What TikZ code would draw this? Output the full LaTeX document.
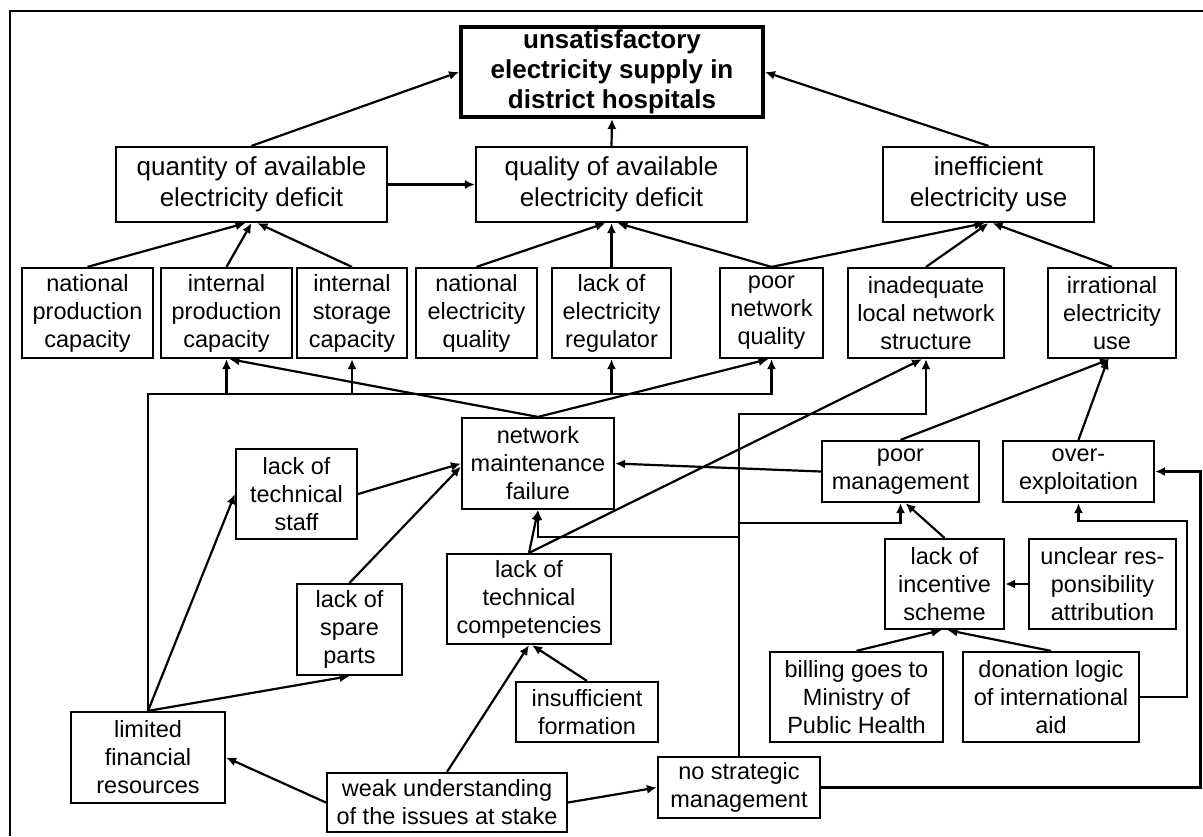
\documentclass[tikz,border=0pt]{standalone}
\usepackage{fontspec}
\setmainfont{Liberation Sans}
\usetikzlibrary{arrows.meta}

\tikzset{
  >={Latex[length=10pt,width=9pt]},
  box/.style={draw, line width=2.2pt, align=center, inner sep=0pt,
    font=\fontsize{23.5}{28}\selectfont},
  head/.style={box, font=\fontsize{26}{31.5}\selectfont},
  goal/.style={box, line width=4pt, font=\fontsize{26}{30}\selectfont\bfseries},
  link/.style={line width=2.2pt, ->},
}

\begin{document}
\begin{tikzpicture}[x=1pt, y=-1pt]
                \useasboundingbox (0,0) rectangle (1203,836);
                \draw[line width=2pt] (9.6,836) -- (9.6,10.7) -- (1203,10.7);

                \node[goal, minimum width=302, minimum height=90] (goal) at (612,72) {unsatisfactory\\electricity supply in\\district hospitals};

                \node[head, minimum width=271, minimum height=75] (quantity) at (251.5,184.5) {quantity of available\\electricity deficit};
                \node[head, minimum width=271, minimum height=75] (quality) at (611.5,184.5) {quality of available\\electricity deficit};
                \node[head, minimum width=211, minimum height=75] (ineff) at (988.5,184.5) {inefficient\\electricity use};

                \node[box, minimum width=131, minimum height=90] (natprod) at (87.5,313) {national\\production\\capacity};
                \node[box, minimum width=131, minimum height=90] (intprod) at (226.5,313) {internal\\production\\capacity};
                \node[box, minimum width=110, minimum height=90] (storage) at (352,313) {internal\\storage\\capacity};
                \node[box, minimum width=121, minimum height=90] (natqual) at (476.5,313) {national\\electricity\\quality};
                \node[box, minimum width=119, minimum height=90] (regul) at (611.5,313) {lack of\\electricity\\regulator};
                \node[box, minimum width=103, minimum height=90] (poorqual) at (771.5,313) {poor\\network\\quality};
                \node[box, minimum width=156, minimum height=90] (inadeq) at (926,313) {inadequate\\local network\\structure};
                \node[box, minimum width=128, minimum height=90] (irrat) at (1112,313) {irrational\\electricity\\use};

                \node[box, minimum width=152, minimum height=91] (netmaint) at (538,463.5) {network\\maintenance\\failure};
                \node[box, minimum width=121, minimum height=90] (techstaff) at (296.5,494) {lack of\\technical\\staff};
                \node[box, minimum width=105, minimum height=91] (spare) at (349.5,629.5) {lack of\\spare\\parts};
                \node[box, minimum width=164, minimum height=90] (techcomp) at (529,599) {lack of\\technical\\competencies};
                \node[box, minimum width=142, minimum height=60] (insuff) at (587,712) {insufficient\\formation};
                \node[box, minimum width=154, minimum height=91] (limited) at (148,757.5) {limited\\financial\\resources};
                \node[box, minimum width=240, minimum height=59] (weak) at (447,802.5) {weak understanding\\of the issues at stake};
                \node[box, minimum width=162, minimum height=61] (nostrat) at (739,787.5) {no strategic\\management};

                \node[box, minimum width=157, minimum height=61] (poormgmt) at (900.5,471.5) {poor\\management};
                \node[box, minimum width=151, minimum height=61] (overexpl) at (1078.5,471.5) {over-\\exploitation};
                \node[box, minimum width=119, minimum height=90] (incentive) at (944.5,584) {lack of\\incentive\\scheme};
                \node[box, minimum width=147, minimum height=90] (unclear) at (1102.5,584) {unclear res-\\ponsibility\\attribution};
                \node[box, minimum width=173, minimum height=90] (billing) at (856.5,697) {billing goes to\\Ministry of\\Public Health};
                \node[box, minimum width=176, minimum height=90] (donation) at (1051,697) {donation logic\\of international\\aid};

                \coordinate (bus) at (0,394);
                \coordinate (upper) at (0,414);
                \coordinate (mid) at (0,523);
                \coordinate (low) at (0,537);
                \coordinate (edge) at (1200.5,0);
                \coordinate (rail) at (1187,521);

                \draw[link] (quantity.north) -- (goal.west);
                \draw[link] (quality.north) -- (goal.south);
                \draw[link] (ineff.north) -- (goal.east);
                \draw[link] (quantity.east) -- (quality.west);

                \draw[link] (natprod.north) -- ([xshift=-6pt]quantity.south);
                \draw[link] (intprod.north) -- (quantity.south);
                \draw[link] (storage.north) -- ([xshift=6pt]quantity.south);
                \draw[link] (natqual.north) -- ([xshift=-6pt]quality.south);
                \draw[link] (regul.north) -- (quality.south);
                \draw[link] (poorqual.north) -- ([xshift=6pt]quality.south);
                \draw[link] (poorqual.north) -- ([xshift=-4pt]ineff.south);
                \draw[link] (inadeq.north) -- (ineff.south);
                \draw[link] (irrat.north) -- ([xshift=4pt]ineff.south);

                \draw[link] (limited.north) |- (poorqual.south |- bus) -- (poorqual.south);
                \foreach \n in {intprod, storage, regul}
                  \draw[link] (\n.south |- bus) -- (\n.south);
                \draw[link] (netmaint.north) -- ([xshift=3pt]intprod.south);
                \draw[link] (netmaint.north) -- ([xshift=-3pt]poorqual.south);

                \draw[link] (techstaff.east) -- (netmaint.west);
                \draw[link] (spare.north) -- ([yshift=-3pt]netmaint.west);
                \draw[link] (limited.north) -- (techstaff.west);
                \draw[link] (limited.north) -- (spare.south);
                \draw[link] (techcomp.north) -- (netmaint.south);
                \draw[link] (techcomp.north) -- ([xshift=-4pt]inadeq.south);
                \draw[link] (insuff.north) -- ([xshift=3pt]techcomp.south);
                \draw[link] (weak.north) -- (techcomp.south);
                \draw[link] (weak.west) -- (limited.east);
                \draw[link] (weak.east) -- (nostrat.west);

                \draw[link] (nostrat.north) -- (nostrat.north |- upper) -| (inadeq.south);
                \draw[link] (nostrat.north |- mid) -| (poormgmt.south);
                \draw[link] (nostrat.north |- low) -| (netmaint.south);
                \draw[link] (nostrat.east) -| (edge |- overexpl.east) -- (overexpl.east);

                \draw[link] (poormgmt.west) -- (netmaint.east);
                \draw[link] (poormgmt.north) -- ([xshift=-2pt]irrat.south);
                \draw[link] (overexpl.north) -- ([xshift=-4pt]irrat.south);
                \draw[link] (incentive.north) -- ([xshift=5pt]poormgmt.south);
                \draw[link] (unclear.west) -- (incentive.east);
                \draw[link] (billing.north) -- ([xshift=-3pt]incentive.south);
                \draw[link] (donation.north) -- ([xshift=3pt]incentive.south);
                \draw[link] (donation.east) -| (rail) -| (overexpl.south);

\end{tikzpicture}
\end{document}
